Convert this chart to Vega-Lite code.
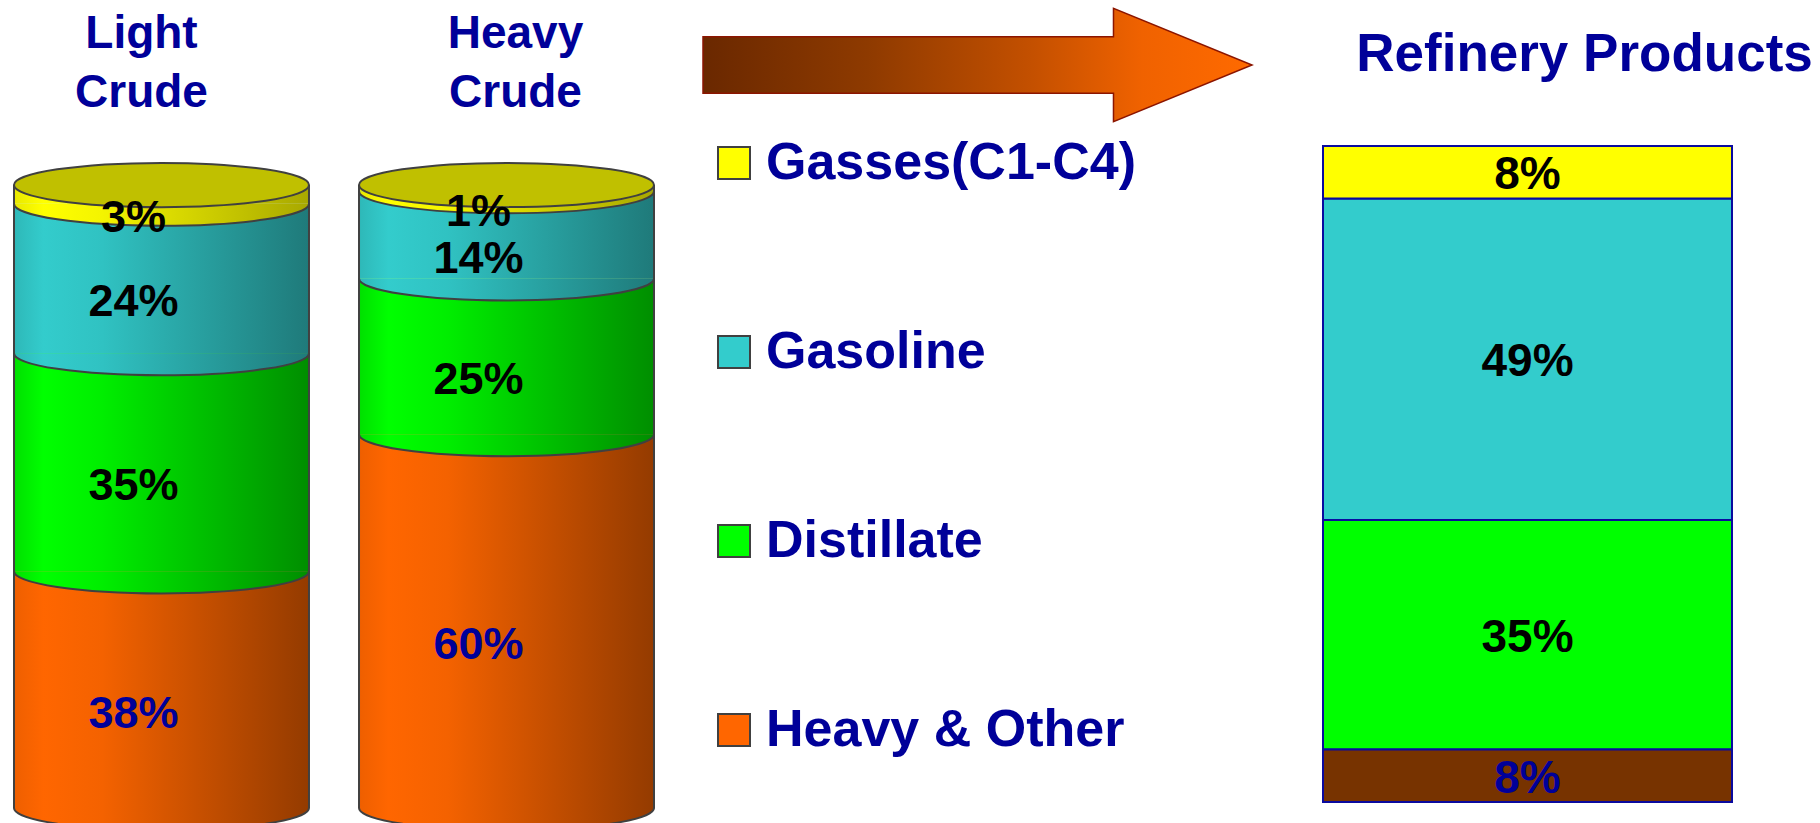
{
  "$schema": "https://vega.github.io/schema/vega-lite/v6.json",
  "width": 1820,
  "height": 823,
  "autosize": {"type": "none"},
  "padding": 0,
  "background": "white",
  "config": {"view": {"stroke": null}, "font": "Liberation Sans"},
  "datasets": {
    "crude": [
      {"crude": "Light Crude", "product": "Heavy & Other", "share": 0.38},
      {"crude": "Light Crude", "product": "Distillate", "share": 0.35},
      {"crude": "Light Crude", "product": "Gasoline", "share": 0.24},
      {"crude": "Light Crude", "product": "Gasses(C1-C4)", "share": 0.03},
      {"crude": "Heavy Crude", "product": "Heavy & Other", "share": 0.60},
      {"crude": "Heavy Crude", "product": "Distillate", "share": 0.25},
      {"crude": "Heavy Crude", "product": "Gasoline", "share": 0.14},
      {"crude": "Heavy Crude", "product": "Gasses(C1-C4)", "share": 0.01}
    ],
    "refinery": [
      {"stream": "Refinery Products", "product": "Heavy & Other", "share": 0.08},
      {"stream": "Refinery Products", "product": "Distillate", "share": 0.35},
      {"stream": "Refinery Products", "product": "Gasoline", "share": 0.49},
      {"stream": "Refinery Products", "product": "Gasses(C1-C4)", "share": 0.08}
    ],
    "flow": [{"stage": "Refining"}]
  },
  "layer": [
    {
      "data": {"name": "crude"},
      "transform": [{"stack": "share", "groupby": ["crude"], "as": ["y0", "y1"]}],
      "encoding": {
        "x": {"field": "crude", "type": "nominal",
          "scale": {"type": "band", "domain": ["Light Crude", "Heavy Crude"], "range": [14, 654], "paddingInner": 0.145, "paddingOuter": 0},
          "axis": {"orient": "top", "offset": -57, "title": null, "domain": false, "ticks": false, "grid": false, "labelPadding": 0, "labelAngle": 0,
            "labelExpr": "split(datum.label, ' ')", "labelFont": "Liberation Sans", "labelFontWeight": "bold", "labelFontSize": 46, "labelLineHeight": 59,
            "labelColor": "#000099", "labelLimit": 1000,
            "labelOffset": {"condition": {"test": "datum.value === 'Light Crude'", "value": -20}, "value": 9}}}
      },
      "layer": [
        {"transform": [{"filter": "datum.product === 'Heavy & Other'"}],
         "mark": {"type": "bar", "strokeWidth": 0, "fill": {"gradient": "linear", "x1": 0, "y1": 0, "x2": 1, "y2": 0, "stops": [{"offset": 0, "color": "#EE5F00"}, {"offset": 0.1, "color": "#FF6600"}, {"offset": 0.3, "color": "#F46200"}, {"offset": 1, "color": "#943B00"}]}},
         "encoding": {"y": {"field": "y0", "type": "quantitative", "scale": {"domain": [0, 1], "range": [808, 185], "nice": false, "zero": false}, "axis": null}, "y2": {"field": "y1"}}},
        {"transform": [{"filter": "datum.product === 'Distillate'"}],
         "mark": {"type": "bar", "strokeWidth": 0, "fill": {"gradient": "linear", "x1": 0, "y1": 0, "x2": 1, "y2": 0, "stops": [{"offset": 0, "color": "#00E000"}, {"offset": 0.1, "color": "#00FF00"}, {"offset": 0.3, "color": "#00EE00"}, {"offset": 1, "color": "#008E00"}]}},
         "encoding": {"y": {"field": "y0", "type": "quantitative", "scale": {"domain": [0, 1], "range": [808, 185], "nice": false, "zero": false}, "axis": null}, "y2": {"field": "y1"}}},
        {"transform": [{"filter": "datum.product === 'Gasoline'"}],
         "mark": {"type": "bar", "strokeWidth": 0, "fill": {"gradient": "linear", "x1": 0, "y1": 0, "x2": 1, "y2": 0, "stops": [{"offset": 0, "color": "#2EB8B8"}, {"offset": 0.1, "color": "#33CCCC"}, {"offset": 0.3, "color": "#30C2C2"}, {"offset": 1, "color": "#1F7A7A"}]}},
         "encoding": {"y": {"field": "y0", "type": "quantitative", "scale": {"domain": [0, 1], "range": [808, 185], "nice": false, "zero": false}, "axis": null}, "y2": {"field": "y1"}}},
        {"transform": [{"filter": "datum.product === 'Gasses(C1-C4)'"}],
         "mark": {"type": "bar", "strokeWidth": 0, "fill": {"gradient": "linear", "x1": 0, "y1": 0, "x2": 1, "y2": 0, "stops": [{"offset": 0, "color": "#E8E800"}, {"offset": 0.1, "color": "#FFFF00"}, {"offset": 0.3, "color": "#F4F400"}, {"offset": 1, "color": "#A8A800"}]}},
         "encoding": {"y": {"field": "y0", "type": "quantitative", "scale": {"domain": [0, 1], "range": [808, 185], "nice": false, "zero": false}, "axis": null}, "y2": {"field": "y1"}}},
        {"transform": [{"filter": "datum.product === 'Heavy & Other'"}],
         "mark": {"type": "point", "filled": true, "opacity": 1, "strokeWidth": 0, "size": 87025, "shape": "M -1 0 C -1 0.0828 -0.5523 0.15 0 0.15 C 0.5523 0.15 1 0.0828 1 0 Z",
           "fill": {"gradient": "linear", "x1": 0, "y1": 0, "x2": 1, "y2": 0, "stops": [{"offset": 0, "color": "#EE5F00"}, {"offset": 0.1, "color": "#FF6600"}, {"offset": 0.3, "color": "#F46200"}, {"offset": 1, "color": "#943B00"}]}},
         "encoding": {"y": {"field": "y0", "type": "quantitative", "scale": {"domain": [0, 1], "range": [808, 185], "nice": false, "zero": false}, "axis": null}}},
        {"transform": [{"filter": "datum.product === 'Distillate'"}],
         "mark": {"type": "point", "filled": true, "opacity": 1, "strokeWidth": 0, "size": 87025, "shape": "M -1 0 C -1 0.0828 -0.5523 0.15 0 0.15 C 0.5523 0.15 1 0.0828 1 0 Z",
           "fill": {"gradient": "linear", "x1": 0, "y1": 0, "x2": 1, "y2": 0, "stops": [{"offset": 0, "color": "#00E000"}, {"offset": 0.1, "color": "#00FF00"}, {"offset": 0.3, "color": "#00EE00"}, {"offset": 1, "color": "#008E00"}]}},
         "encoding": {"y": {"field": "y0", "type": "quantitative", "scale": {"domain": [0, 1], "range": [808, 185], "nice": false, "zero": false}, "axis": null}}},
        {"transform": [{"filter": "datum.product === 'Gasoline'"}],
         "mark": {"type": "point", "filled": true, "opacity": 1, "strokeWidth": 0, "size": 87025, "shape": "M -1 0 C -1 0.0828 -0.5523 0.15 0 0.15 C 0.5523 0.15 1 0.0828 1 0 Z",
           "fill": {"gradient": "linear", "x1": 0, "y1": 0, "x2": 1, "y2": 0, "stops": [{"offset": 0, "color": "#2EB8B8"}, {"offset": 0.1, "color": "#33CCCC"}, {"offset": 0.3, "color": "#30C2C2"}, {"offset": 1, "color": "#1F7A7A"}]}},
         "encoding": {"y": {"field": "y0", "type": "quantitative", "scale": {"domain": [0, 1], "range": [808, 185], "nice": false, "zero": false}, "axis": null}}},
        {"transform": [{"filter": "datum.product === 'Gasses(C1-C4)'"}],
         "mark": {"type": "point", "filled": true, "opacity": 1, "strokeWidth": 0, "size": 87025, "shape": "M -1 0 C -1 0.0828 -0.5523 0.15 0 0.15 C 0.5523 0.15 1 0.0828 1 0 Z",
           "fill": {"gradient": "linear", "x1": 0, "y1": 0, "x2": 1, "y2": 0, "stops": [{"offset": 0, "color": "#E8E800"}, {"offset": 0.1, "color": "#FFFF00"}, {"offset": 0.3, "color": "#F4F400"}, {"offset": 1, "color": "#A8A800"}]}},
         "encoding": {"y": {"field": "y0", "type": "quantitative", "scale": {"domain": [0, 1], "range": [808, 185], "nice": false, "zero": false}, "axis": null}}},
        {"transform": [{"filter": "datum.product === 'Gasses(C1-C4)'"}],
         "mark": {"type": "rule", "stroke": "#404040", "strokeWidth": 2},
         "encoding": {
           "x": {"field": "crude", "type": "nominal", "bandPosition": 0,
             "scale": {"type": "band", "domain": ["Light Crude", "Heavy Crude"], "range": [14, 654], "paddingInner": 0.145, "paddingOuter": 0},
             "axis": {"orient": "top", "offset": -57, "title": null, "domain": false, "ticks": false, "grid": false, "labelPadding": 0, "labelAngle": 0,
               "labelExpr": "split(datum.label, ' ')", "labelFont": "Liberation Sans", "labelFontWeight": "bold", "labelFontSize": 46, "labelLineHeight": 59,
               "labelColor": "#000099", "labelLimit": 1000,
               "labelOffset": {"condition": {"test": "datum.value === 'Light Crude'", "value": -20}, "value": 9}}},
           "y": {"field": "y1", "type": "quantitative", "scale": {"domain": [0, 1], "range": [808, 185], "nice": false, "zero": false}, "axis": null},
           "y2": {"datum": 0}}},
        {"transform": [{"filter": "datum.product === 'Gasses(C1-C4)'"}],
         "mark": {"type": "rule", "stroke": "#404040", "strokeWidth": 2},
         "encoding": {
           "x": {"field": "crude", "type": "nominal", "bandPosition": 1,
             "scale": {"type": "band", "domain": ["Light Crude", "Heavy Crude"], "range": [14, 654], "paddingInner": 0.145, "paddingOuter": 0},
             "axis": {"orient": "top", "offset": -57, "title": null, "domain": false, "ticks": false, "grid": false, "labelPadding": 0, "labelAngle": 0,
               "labelExpr": "split(datum.label, ' ')", "labelFont": "Liberation Sans", "labelFontWeight": "bold", "labelFontSize": 46, "labelLineHeight": 59,
               "labelColor": "#000099", "labelLimit": 1000,
               "labelOffset": {"condition": {"test": "datum.value === 'Light Crude'", "value": -20}, "value": 9}}},
           "y": {"field": "y1", "type": "quantitative", "scale": {"domain": [0, 1], "range": [808, 185], "nice": false, "zero": false}, "axis": null},
           "y2": {"datum": 0}}},
        {"mark": {"type": "point", "filled": false, "opacity": 1, "stroke": "#404040", "strokeWidth": 2, "size": 87025, "shape": "M -1 0 C -1 0.0828 -0.5523 0.15 0 0.15 C 0.5523 0.15 1 0.0828 1 0"},
         "encoding": {"y": {"field": "y0", "type": "quantitative", "scale": {"domain": [0, 1], "range": [808, 185], "nice": false, "zero": false}, "axis": null}}},
        {"transform": [{"filter": "datum.product === 'Gasses(C1-C4)'"}],
         "mark": {"type": "point", "filled": true, "opacity": 1, "fill": "#C0C000", "stroke": "#404040", "strokeWidth": 2, "size": 87025,
           "shape": "M -1 0 C -1 -0.0828 -0.5523 -0.15 0 -0.15 C 0.5523 -0.15 1 -0.0828 1 0 C 1 0.0828 0.5523 0.15 0 0.15 C -0.5523 0.15 -1 0.0828 -1 0 Z"},
         "encoding": {"y": {"field": "y1", "type": "quantitative", "scale": {"domain": [0, 1], "range": [808, 185], "nice": false, "zero": false}, "axis": null}}},
        {"transform": [{"fold": ["y0", "y1"], "as": ["k", "v"]}, {"aggregate": [{"op": "mean", "field": "v", "as": "mid"}], "groupby": ["crude", "product", "share"]}],
         "mark": {"type": "text", "font": "Liberation Sans", "fontWeight": "bold", "fontSize": 45, "dx": -28, "dy": 24, "baseline": "middle", "align": "center"},
         "encoding": {
           "y": {"field": "mid", "type": "quantitative", "scale": {"domain": [0, 1], "range": [808, 185], "nice": false, "zero": false}, "axis": null},
           "text": {"field": "share", "type": "quantitative", "format": ".0%"},
           "color": {"condition": {"test": "datum.product === 'Heavy & Other'", "value": "#000099"}, "value": "#000000"}}}
      ]
    },
    {
      "data": {"name": "refinery"},
      "transform": [{"stack": "share", "groupby": ["stream"], "as": ["y0", "y1"]}],
      "encoding": {
        "x": {"field": "stream", "type": "nominal",
          "scale": {"type": "band", "domain": ["Refinery Products"], "range": [1323, 1732], "paddingInner": 0, "paddingOuter": 0},
          "axis": {"orient": "top", "offset": -81, "title": null, "domain": false, "ticks": false, "grid": false, "labelPadding": 0, "labelAngle": 0,
            "labelFont": "Liberation Sans", "labelFontWeight": "bold", "labelFontSize": 53, "labelColor": "#000099", "labelLimit": 1000, "labelOffset": 57}}
      },
      "layer": [
        {"mark": {"type": "bar", "stroke": "#0A0A9E", "strokeWidth": 2},
         "encoding": {
           "y": {"field": "y0", "type": "quantitative", "scale": {"domain": [0, 1], "range": [802, 146], "nice": false, "zero": false}, "axis": null},
           "y2": {"field": "y1"},
           "color": {"field": "product", "type": "nominal",
             "scale": {"domain": ["Gasses(C1-C4)", "Gasoline", "Distillate", "Heavy & Other"], "range": ["#FFFF00", "#33CCCC", "#00FF00", "#FF6600"]},
             "legend": {"title": null, "orient": "none", "legendX": 708, "legendY": 137, "direction": "vertical", "symbolType": "square", "symbolSize": 1024,
               "symbolStrokeColor": "#404040", "symbolStrokeWidth": 2, "symbolOpacity": 1, "labelFontSize": 52, "labelFont": "Liberation Sans", "labelFontWeight": "bold",
               "labelColor": "#000099", "labelLimit": 1000, "labelOffset": 6, "rowPadding": 137, "padding": 0}}}},
        {"transform": [{"filter": "datum.product === 'Heavy & Other'"}],
         "mark": {"type": "bar", "fill": "#773300", "stroke": "#0A0A9E", "strokeWidth": 2},
         "encoding": {
           "y": {"field": "y0", "type": "quantitative", "scale": {"domain": [0, 1], "range": [802, 146], "nice": false, "zero": false}, "axis": null},
           "y2": {"field": "y1"}}},
        {"transform": [{"fold": ["y0", "y1"], "as": ["k", "v"]}, {"aggregate": [{"op": "mean", "field": "v", "as": "mid"}], "groupby": ["stream", "product", "share"]}],
         "mark": {"type": "text", "font": "Liberation Sans", "fontWeight": "bold", "fontSize": 46, "dy": 3, "baseline": "middle", "align": "center"},
         "encoding": {
           "y": {"field": "mid", "type": "quantitative", "scale": {"domain": [0, 1], "range": [802, 146], "nice": false, "zero": false}, "axis": null},
           "text": {"field": "share", "type": "quantitative", "format": ".0%"},
           "color": {"condition": {"test": "datum.product === 'Heavy & Other'", "value": "#000099"}, "value": "#000000"}}}
      ]
    },
    {
      "data": {"name": "flow"},
      "mark": {"type": "point", "filled": true, "opacity": 1, "size": 301401, "stroke": "#8B1500", "strokeWidth": 1.5,
        "shape": "M -1 -0.103 L 0.4954 -0.103 L 0.4954 -0.2066 L 1 0 L 0.4954 0.2066 L 0.4954 0.103 L -1 0.103 Z",
        "fill": {"gradient": "linear", "x1": 0, "y1": 0, "x2": 1, "y2": 0, "stops": [{"offset": 0, "color": "#6A2800"}, {"offset": 0.3, "color": "#8E3A00"}, {"offset": 0.6, "color": "#C45000"}, {"offset": 0.8, "color": "#F06200"}, {"offset": 1, "color": "#FF6A00"}]}},
      "encoding": {
        "x": {"field": "stage", "type": "nominal", "scale": {"type": "band", "range": [703, 1252]}, "axis": null},
        "y": {"field": "stage", "type": "nominal", "scale": {"type": "band", "range": [8, 122]}, "axis": null}
      }
    }
  ],
  "resolve": {"scale": {"x": "independent", "y": "independent"}}
}
